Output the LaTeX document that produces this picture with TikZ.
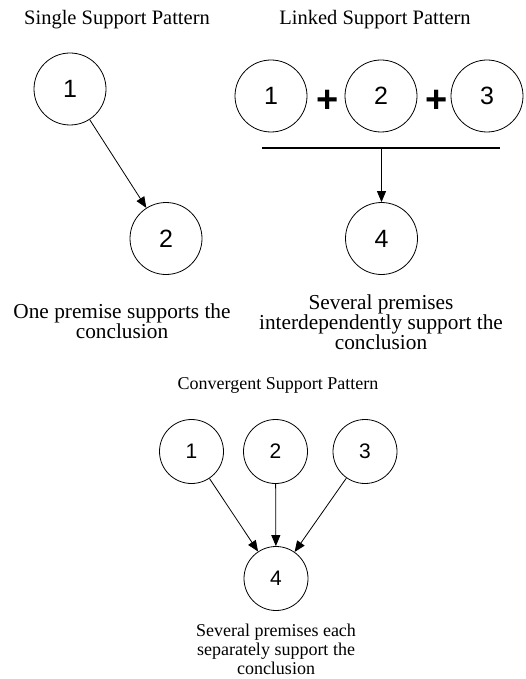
\documentclass[tikz,border=0pt]{standalone}
\usepackage{fontspec}
\setmainfont{Liberation Serif}
\newfontfamily\digitfont{Liberation Sans}
\usetikzlibrary{arrows.meta}

\begin{document}
\begin{tikzpicture}[x=1pt,y=-1pt,
  premise/.style={circle, draw, line width=0.8pt, minimum size=72pt, inner sep=0pt,
                  font=\digitfont\fontsize{25}{25}\selectfont},
  small premise/.style={premise, minimum size=64pt,
                  font=\digitfont\fontsize{21}{21}\selectfont},
  heading/.style={font=\fontsize{20.5}{24}\selectfont, inner sep=0pt},
  small heading/.style={font=\fontsize{18}{20}\selectfont, inner sep=0pt},
  caption/.style={align=center, inner sep=0pt, font=\fontsize{21.3}{20}\selectfont},
  small caption/.style={align=center, inner sep=0pt, font=\fontsize{18}{19}\selectfont},
  link/.style={-{Triangle[length=11pt,width=9pt]}, line width=0.8pt},
  plus/.style={font=\digitfont\bfseries\fontsize{38}{38}\selectfont, inner sep=0pt},
  joint/.style={line width=1.5pt}]
\useasboundingbox (0,0) rectangle (526,679);

% Single support pattern
\node[heading] (single title) at (117,20) {Single Support Pattern};
\node[premise] (s1) at (70,89) {1};
\node[premise] (s2) at (166,238.5) {2};
\draw[link] (s1) -- (s2);
\node[caption] (single text) at (122,321) {One premise supports the\\conclusion};

% Linked support pattern
\node[heading] (linked title) at (375,20) {Linked Support Pattern};
\node[premise] (l1) at (271,96) {1};
\node[premise] (l2) at (381,96) {2};
\node[premise] (l3) at (487,96) {3};
\node[plus] (p1) at (328,101) {+};
\node[plus] (p2) at (437,101) {+};
\coordinate (bar left) at (262,148);
\coordinate (bar right) at (500,148);
\coordinate (bar mid) at (381.5,148);
\draw[joint] (bar left) -- (bar right);
\node[premise] (l4) at (381.5,238.5) {4};
\draw[link] (bar mid) -- (l4);
\node[caption] (linked text) at (381,322) {Several premises\\interdependently support the\\conclusion};

% Convergent support pattern
\node[small heading] (conv title) at (278,385) {Convergent Support Pattern};
\node[small premise] (c1) at (191.5,451.5) {1};
\node[small premise] (c2) at (275.5,451.5) {2};
\node[small premise] (c3) at (365,451.5) {3};
\node[small premise] (c4) at (276,578.5) {4};
\draw[link] (c1) -- (c4);
\draw[link] (c2) -- (c4);
\draw[link] (c3) -- (c4);
\node[small caption] (conv text) at (276,649) {Several premises each\\separately support the\\conclusion};
\end{tikzpicture}
\end{document}
